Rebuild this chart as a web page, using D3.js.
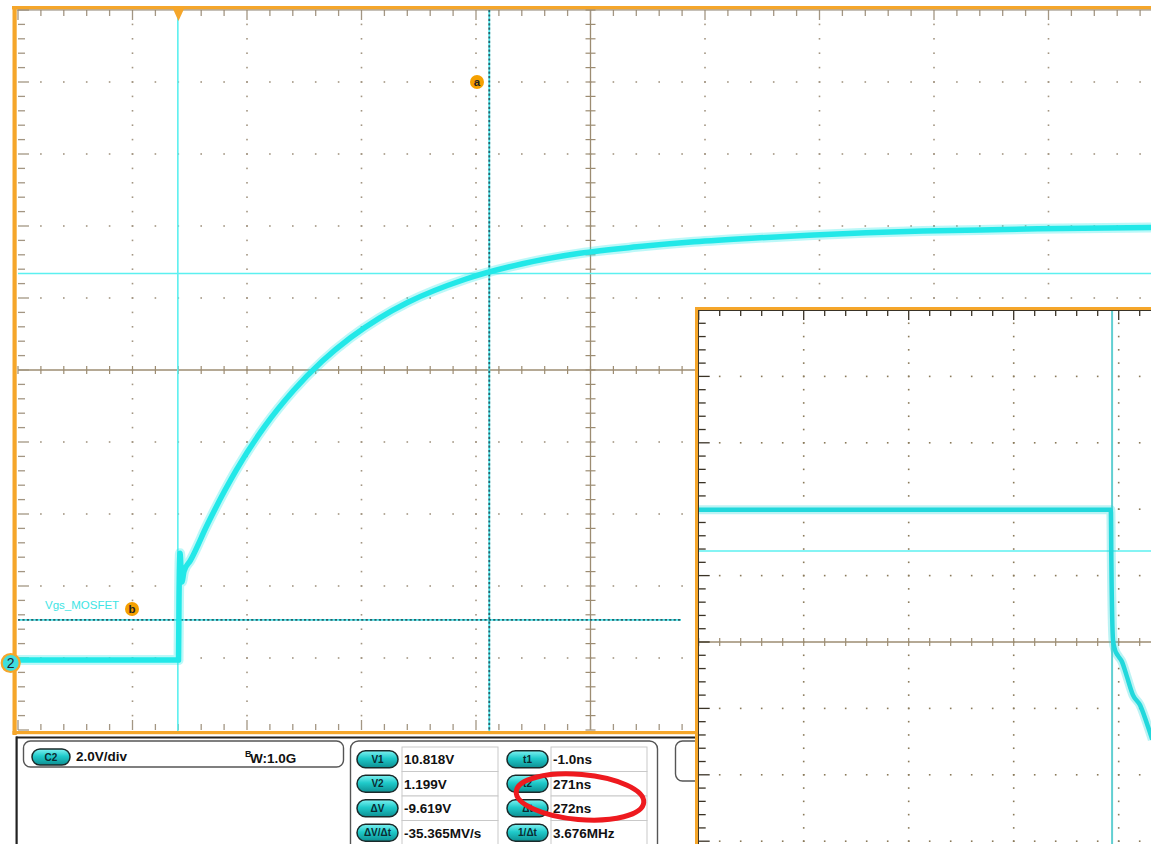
<!DOCTYPE html>
<html><head><meta charset="utf-8">
<script src="https://cdn.jsdelivr.net/npm/d3@7"></script>
<style>html,body{margin:0;padding:0;background:#fff;overflow:hidden}</style>
</head><body><svg id="c" width="1151" height="844"></svg>
<script>
// ---------- data ----------
// main capture: channel 2, 2.0 V/div, 100 ns/div
const mainTimeNs = [-140.6, -1.2, -0.4, 0.0, 0.9, 2.5, 4.4, 10, 25, 40, 50, 75, 100, 125, 150, 175, 200, 250, 300, 350, 400, 450, 500, 550, 600, 650, 700, 750, 860];
const mainVolts  = [0.08, 0.08, 0.08, 1.75, 3.05, 2.25, 2.55, 2.85, 3.86, 4.79, 5.36, 6.58, 7.57, 8.38, 9.04, 9.58, 10.02, 10.66, 11.09, 11.38, 11.56, 11.70, 11.80, 11.88, 11.95, 12.0, 12.03, 12.06, 12.1];
// inset capture (in divisions)
const insetXDiv = [0, 3.925, 3.93, 3.946, 3.965, 3.99, 4.029, 4.076, 4.136, 4.203, 4.267, 4.32];
const insetYDiv = [1.99, 1.99, 1.2, 0.03, -0.12, -0.2, -0.29, -0.51, -0.80, -0.95, -1.22, -1.47];
const insetCursorX = 3.937, insetCursorY = 1.37;
// cursors
const cursorT1 = -1.0, cursorT2 = 271, cursorV1 = 10.818, cursorV2 = 1.199;
const channelLabel = "Vgs_MOSFET";
const scaleText = "2.0V/div", bwText = "W:1.0G";
const measLeftLabels = ["V1", "V2", "ΔV", "ΔV/Δt"];
const measLeftValues = ["10.818V", "1.199V", "-9.619V", "-35.365MV/s"];
const measRightLabels = ["t1", "t2", "Δt", "1/Δt"];
const measRightValues = ["-1.0ns", "271ns", "272ns", "3.676MHz"];

// ---------- setup ----------
const svg = d3.select("#c");
const ORANGE = "#f5a62a", CYAN = "#22e8e8", GRID = "#a39683", AX = "#9c8c72";
const FONT = "Liberation Sans, Arial, sans-serif";

const xMain = d3.scaleLinear().domain([-140.6, 859.4]).range([18, 1163]);
const yMain = d3.scaleLinear().domain([-1.861, 18.139]).range([730, 10]);

function scopeGrid(g, left, top, dw, dh, nx, ny, tickCol, dotCol) {
  const gx = d3.scaleLinear().domain([0, nx]).range([left, left + nx * dw]);
  const gy = d3.scaleLinear().domain([0, ny]).range([top, top + ny * dh]);
  const minorX = d3.range(0, nx * 5 + 1).map(i => i / 5);
  const minorY = d3.range(0, ny * 5 + 1).map(i => i / 5);
  const dots = [];
  for (let i = 1; i < nx; i++) if (i !== nx / 2) minorY.forEach(j => { if (j > 0 && j < ny) dots.push([gx(i), gy(j)]); });
  for (let j = 1; j < ny; j++) if (j !== ny / 2) minorX.forEach(i => { if (i > 0 && i < nx) dots.push([gx(i), gy(j)]); });
  g.selectAll(null).data(dots).join("rect")
    .attr("x", d => d[0] - 0.8).attr("y", d => d[1] - 0.8).attr("width", 1.6).attr("height", 1.6).attr("fill", dotCol);
  g.append("line").attr("x1", gx(0)).attr("x2", gx(nx)).attr("y1", gy(ny / 2)).attr("y2", gy(ny / 2)).attr("stroke", AX).attr("stroke-width", 1.3);
  g.append("line").attr("x1", gx(nx / 2)).attr("x2", gx(nx / 2)).attr("y1", gy(0)).attr("y2", gy(ny)).attr("stroke", AX).attr("stroke-width", 1.3);
  g.selectAll(null).data(minorX).join("line")
    .attr("x1", d => gx(d)).attr("x2", d => gx(d)).attr("y1", gy(ny / 2) - 4).attr("y2", gy(ny / 2) + 4).attr("stroke", AX).attr("stroke-width", 1.2);
  g.selectAll(null).data(minorY).join("line")
    .attr("y1", d => gy(d)).attr("y2", d => gy(d)).attr("x1", gx(nx / 2) - 5).attr("x2", gx(nx / 2) + 5).attr("stroke", AX).attr("stroke-width", 1.2);
  const isMaj = d => Math.abs(d - Math.round(d)) < 1e-6;
  g.selectAll(null).data(minorX).join("line")
    .attr("x1", d => gx(d)).attr("x2", d => gx(d)).attr("y1", gy(0)).attr("y2", d => gy(0) + (isMaj(d) ? 10 : 6)).attr("stroke", tickCol).attr("stroke-width", 1.3);
  g.selectAll(null).data(minorX).join("line")
    .attr("x1", d => gx(d)).attr("x2", d => gx(d)).attr("y1", gy(ny)).attr("y2", d => gy(ny) - (isMaj(d) ? 10 : 6)).attr("stroke", tickCol).attr("stroke-width", 1.3);
  g.selectAll(null).data(minorY).join("line")
    .attr("y1", d => gy(d)).attr("y2", d => gy(d)).attr("x1", gx(0)).attr("x2", d => gx(0) + (isMaj(d) ? 11 : 7)).attr("stroke", tickCol).attr("stroke-width", 1.3);
}

// ---------- main scope ----------
const main = svg.append("g");
scopeGrid(main, 18, 10, 114.5, 72, 10, 10, GRID, GRID);
main.append("rect").attr("x", 12).attr("y", 6).attr("width", 1200).attr("height", 3.5).attr("fill", ORANGE);
main.append("line").attr("x1", 17).attr("x2", 1151).attr("y1", 10).attr("y2", 10).attr("stroke", "#8d8270").attr("stroke-width", 1);
main.append("rect").attr("x", 12.5).attr("y", 6).attr("width", 4.2).attr("height", 729).attr("fill", ORANGE);
main.append("rect").attr("x", 12.5).attr("y", 731).attr("width", 690).attr("height", 3.2).attr("fill", ORANGE);

// cursors
main.append("line").attr("x1", 18).attr("x2", 1151).attr("y1", yMain(cursorV1)).attr("y2", yMain(cursorV1)).attr("stroke", "#5cf0f0").attr("stroke-width", 1.6);
main.append("line").attr("x1", xMain(cursorT1)).attr("x2", xMain(cursorT1)).attr("y1", 10).attr("y2", 731).attr("stroke", "#5cf0f0").attr("stroke-width", 1.6);
[["v", xMain(cursorT2)], ["h", yMain(cursorV2)]].forEach(([k, p]) => {
  const l1 = main.append("line"), l2 = main.append("line");
  [l1, l2].forEach(l => {
    if (k === "v") l.attr("x1", p).attr("x2", p).attr("y1", 10).attr("y2", 731);
    else l.attr("x1", 18).attr("x2", 681).attr("y1", p).attr("y2", p);
  });
  l1.attr("stroke", "#44e6ec").attr("stroke-width", 1.8);
  l2.attr("stroke", "#2f5f66").attr("stroke-width", 1.8).attr("stroke-dasharray", "2.2,2.2");
});

// trace (noisy band approximated by a halo + core)
const mainLine = d3.line().x((d, i) => xMain(mainTimeNs[i])).y(d => yMain(d)).curve(d3.curveMonotoneX);
main.append("path").attr("d", mainLine(mainVolts)).attr("fill", "none").attr("stroke", CYAN).attr("stroke-width", 10).attr("opacity", 0.3).attr("stroke-linejoin", "round");
main.append("path").attr("d", mainLine(mainVolts)).attr("fill", "none").attr("stroke", CYAN).attr("stroke-width", 5.5).attr("stroke-linejoin", "round");

// trigger marker
main.append("path").attr("d", d3.line()([[xMain(0) - 6, 9], [xMain(0) + 5, 9], [xMain(0) - 0.5, 21]])).attr("fill", ORANGE);
function bubble(x, y, t) {
  main.append("circle").attr("cx", x).attr("cy", y).attr("r", 7).attr("fill", "#f5a000");
  main.append("text").attr("x", x).attr("y", y + 4).attr("text-anchor", "middle").attr("font-family", FONT).attr("font-weight", "bold").attr("font-size", 11.5).attr("fill", "#222").text(t);
}
bubble(477, 82, "a");
bubble(132, 609, "b");
main.append("text").attr("x", 45).attr("y", 609).attr("font-family", FONT).attr("font-size", 11.5).attr("fill", "#3ee4e4").text(channelLabel);
main.append("circle").attr("cx", 10.7).attr("cy", yMain(0)).attr("r", 9).attr("fill", "#3fdede").attr("stroke", ORANGE).attr("stroke-width", 2.2);
main.append("text").attr("x", 10.7).attr("y", yMain(0) + 5).attr("text-anchor", "middle").attr("font-family", FONT).attr("font-size", 14).attr("fill", "#223").text("2");

// ---------- bottom panels ----------
const bp = svg.append("g");
bp.append("rect").attr("x", 16).attr("y", 736.5).attr("width", 690).attr("height", 2).attr("fill", "#222");
bp.append("rect").attr("x", 15.5).attr("y", 736.5).attr("width", 2.2).attr("height", 110).attr("fill", "#222");
bp.append("rect").attr("x", 23.5).attr("y", 741).attr("width", 320).attr("height", 26).attr("rx", 7).attr("fill", "#fff").attr("stroke", "#555").attr("stroke-width", 1.4);
bp.append("rect").attr("x", 350.5).attr("y", 741).attr("width", 307).attr("height", 120).attr("rx", 8).attr("fill", "#fff").attr("stroke", "#555").attr("stroke-width", 1.4);
bp.append("rect").attr("x", 675.5).attr("y", 741).attr("width", 100).attr("height", 40).attr("rx", 7).attr("fill", "#fff").attr("stroke", "#555").attr("stroke-width", 1.4);

const defs = svg.append("defs");
const grad = defs.append("linearGradient").attr("id", "btn").attr("x1", 0).attr("x2", 0).attr("y1", 0).attr("y2", 1);
grad.append("stop").attr("offset", "0%").attr("stop-color", "#7ff2f2");
grad.append("stop").attr("offset", "45%").attr("stop-color", "#1fcaca");
grad.append("stop").attr("offset", "100%").attr("stop-color", "#0e8f92");
function pill(x, y, w, h, t, fs) {
  bp.append("rect").attr("x", x).attr("y", y).attr("width", w).attr("height", h).attr("rx", h / 2).attr("fill", "url(#btn)").attr("stroke", "#1a2a2a").attr("stroke-width", 1.5);
  bp.append("text").attr("x", x + w / 2).attr("y", y + h / 2 + 3.6).attr("text-anchor", "middle").attr("font-family", FONT).attr("font-weight", "bold").attr("font-size", fs).attr("fill", "#0c2a30").text(t);
}
pill(32, 749, 38, 16, "C2", 10);
bp.append("text").attr("x", 76).attr("y", 761).attr("font-family", FONT).attr("font-weight", "bold").attr("font-size", 13.5).attr("fill", "#111").text(scaleText);
bp.append("text").attr("x", 245).attr("y", 757).attr("font-family", FONT).attr("font-weight", "bold").attr("font-size", 9).attr("fill", "#111").text("B");
bp.append("text").attr("x", 250).attr("y", 763).attr("font-family", FONT).attr("font-weight", "bold").attr("font-size", 13.5).attr("fill", "#111").text(bwText);

const rowY = d3.scaleBand().domain(d3.range(4)).range([747, 845]);
[[measLeftLabels, measLeftValues, 357, 402], [measRightLabels, measRightValues, 507, 551]].forEach(([labs, vals, bx, vx]) => {
  labs.forEach((l, i) => {
    const y0 = rowY(i), h = rowY.bandwidth();
    bp.append("rect").attr("x", vx).attr("y", y0).attr("width", 96).attr("height", h).attr("fill", "#fff").attr("stroke", "#c9c9c9").attr("stroke-width", 1);
    pill(bx, y0 + h / 2 - 8.5, 41, 17, l, 10);
    bp.append("text").attr("x", vx + 2).attr("y", y0 + h / 2 + 5).attr("font-family", FONT).attr("font-weight", "bold").attr("font-size", 13.5).attr("fill", "#111").text(vals[i]);
  });
});
bp.append("ellipse").attr("cx", 580).attr("cy", 797).attr("rx", 64).attr("ry", 22.5).attr("transform", "rotate(5,580,797)").attr("fill", "none").attr("stroke", "#ee1a1f").attr("stroke-width", 5);

// ---------- inset capture ----------
const ins = svg.append("g");
defs.append("clipPath").attr("id", "insclip").append("rect").attr("x", 695).attr("y", 307).attr("width", 460).attr("height", 540);
const ig = ins.append("g").attr("clip-path", "url(#insclip)");
ig.append("rect").attr("x", 695).attr("y", 307).attr("width", 460).attr("height", 540).attr("fill", "#fff");
const ixL = 698.7, iyT = 310, idw = 105, idh = 66.4;
scopeGrid(ig, ixL, iyT, idw, idh, 10, 10, "#3a3326", "#8a7a5a");
const xIns = d3.scaleLinear().domain([0, 10]).range([ixL, ixL + 10 * idw]);
const yIns = d3.scaleLinear().domain([5, -5]).range([iyT, iyT + 10 * idh]);
ig.append("line").attr("x1", ixL).attr("x2", 1151).attr("y1", yIns(insetCursorY)).attr("y2", yIns(insetCursorY)).attr("stroke", "#5cf0f0").attr("stroke-width", 1.5);
ig.append("line").attr("x1", xIns(insetCursorX)).attr("x2", xIns(insetCursorX)).attr("y1", iyT).attr("y2", 844).attr("stroke", "#62cfd2").attr("stroke-width", 2);
const insLine = d3.line().x((d, i) => xIns(insetXDiv[i])).y(d => yIns(d)).curve(d3.curveMonotoneX);
ig.append("path").attr("d", insLine(insetYDiv)).attr("fill", "none").attr("stroke", "#22d8dc").attr("stroke-width", 9).attr("opacity", 0.3).attr("stroke-linejoin", "round");
ig.append("path").attr("d", insLine(insetYDiv)).attr("fill", "none").attr("stroke", "#22d8dc").attr("stroke-width", 4.5).attr("stroke-linejoin", "round");
ig.append("rect").attr("x", 695).attr("y", 307).attr("width", 460).attr("height", 3.2).attr("fill", ORANGE);
ig.append("rect").attr("x", 695).attr("y", 307).attr("width", 3.5).attr("height", 540).attr("fill", ORANGE);
ig.append("line").attr("x1", 698.5).attr("x2", 698.5).attr("y1", 310).attr("y2", 844).attr("stroke", "#3a3326").attr("stroke-width", 1);
ig.append("line").attr("x1", 698).attr("x2", 1151).attr("y1", 310.5).attr("y2", 310.5).attr("stroke", "#3a3326").attr("stroke-width", 1);
</script></body></html>
